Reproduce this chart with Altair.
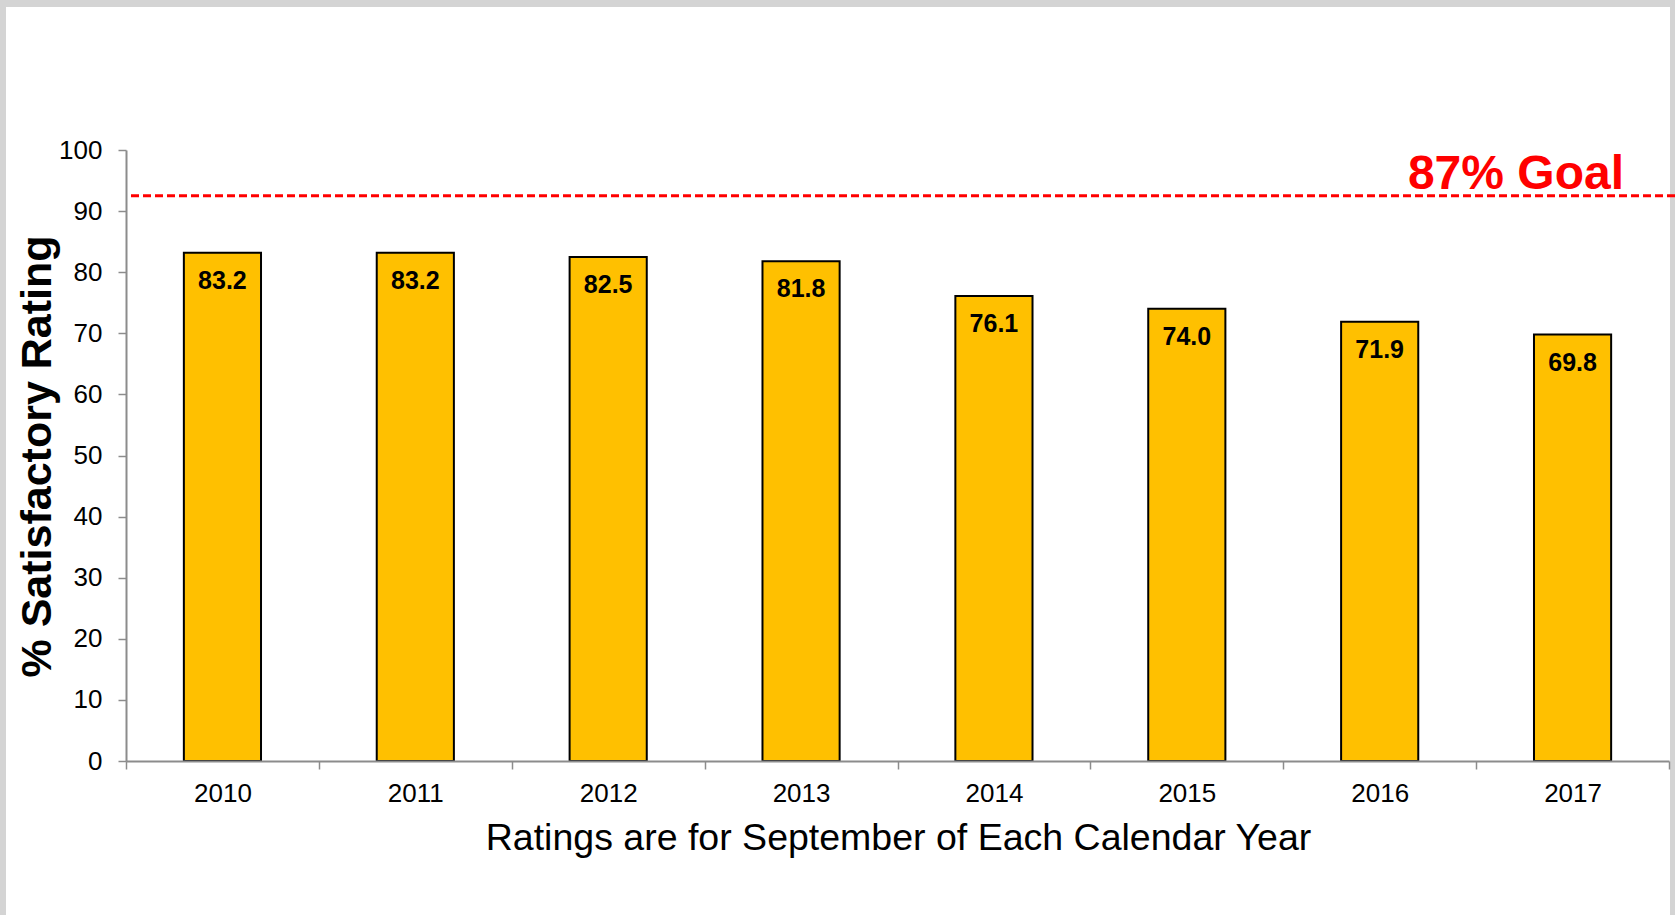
import altair as alt
import pandas as pd

years = ["2010", "2011", "2012", "2013", "2014", "2015", "2016", "2017"]
ratings = [83.2, 83.2, 82.5, 81.8, 76.1, 74.0, 71.9, 69.8]
goal_values = [92.5]
goal_labels = ["87% Goal"]
y_ticks = [0, 10, 20, 30, 40, 50, 60, 70, 80, 90, 100]

W, H = 1543, 611
FONT = "Liberation Sans"

df = pd.DataFrame({"year": years, "rating": ratings})
goal_df = pd.DataFrame({"goal": goal_values, "label": goal_labels})
one = pd.DataFrame({"a": [0]})

Y_TITLE = "% Satisfactory Rating"
X_TITLE = "Ratings are for September of Each Calendar Year"

y_scale = alt.Scale(domain=[0, 100], nice=False, zero=True)
y_axis = alt.Axis(
    values=y_ticks, grid=False, tickSize=8, labelPadding=16, labelFontSize=26,
    titleFontSize=43, titleFontWeight="bold", titleAngle=270, titleX=-76, titleY=306,
    titleBaseline="alphabetic", titleAlign="center", zindex=1,
)
x_axis = alt.Axis(
    labelAngle=0, tickBand="extent", tickSize=8, labelPadding=11, labelFontSize=26,
    titleFontSize=37.5, titleFontWeight="normal", titleX=772, titleY=88,
    titleBaseline="alphabetic", titleAlign="center", zindex=1,
)
x_enc = alt.X("year:N", sort=years, scale=alt.Scale(paddingInner=0, paddingOuter=0),
              axis=x_axis, title=X_TITLE)
y_enc = alt.Y("rating:Q", scale=y_scale, axis=y_axis, title=Y_TITLE)

frame = alt.Chart(one).mark_rect(color="white").encode(
    x=alt.value(-120), x2=alt.value(1544), y=alt.value(-143), y2=alt.value(765)
)

bars = alt.Chart(df).mark_bar(
    color="#FFC000", stroke="black", strokeWidth=2, width=alt.RelativeBandSize(0.4)
).encode(x=x_enc, y=y_enc)

bar_text = alt.Chart(df).mark_text(
    font=FONT, fontSize=25, fontWeight="bold", color="black",
    baseline="alphabetic", dy=36,
).encode(x=x_enc, y=y_enc, text=alt.Text("rating:Q", format=".1f"))

goal_rule = alt.Chart(goal_df).mark_rule(
    color="#FF0000", strokeWidth=3, strokeDash=[8, 4]
).encode(
    y=alt.Y("goal:Q", scale=y_scale, axis=y_axis, title=Y_TITLE),
    x=alt.value(5), x2=alt.value(1549),
)

goal_text = alt.Chart(goal_df).mark_text(
    font=FONT, fontSize=48, fontWeight="bold", color="#FF0000",
    align="right", baseline="alphabetic", dy=-7,
).encode(
    y=alt.Y("goal:Q", scale=y_scale, axis=y_axis, title=Y_TITLE),
    x=alt.value(1498), text="label:N",
)

chart = alt.layer(frame, bars, bar_text, goal_rule, goal_text).properties(
    width=W, height=H,
    autosize=alt.AutoSizeParams(type="none"),
    padding={"left": 126, "top": 150, "right": 6, "bottom": 154},
    background="#d4d4d4",
).configure_view(stroke=None).configure_axis(
    labelFont=FONT, titleFont=FONT, labelColor="black", titleColor="black",
    domainColor="#8c8c8c", tickColor="#8c8c8c", domainWidth=2, tickWidth=1.5,
).configure_text(font=FONT)

chart.save("out.html", embed_options={"renderer": "svg", "actions": False})
